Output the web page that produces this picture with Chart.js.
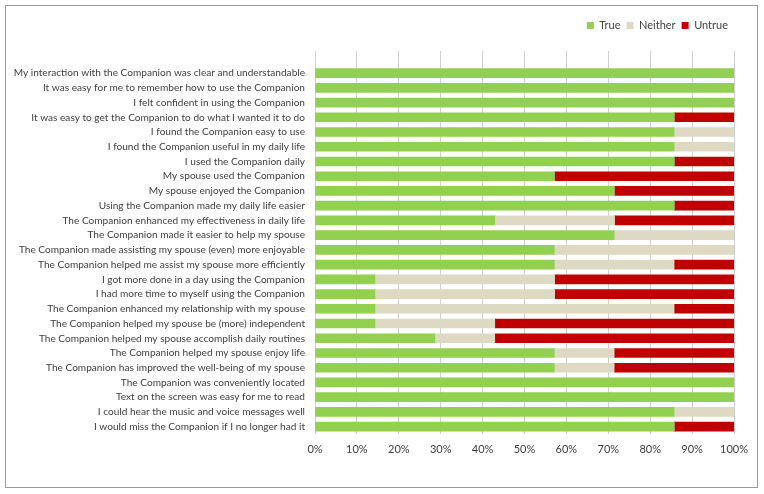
<!DOCTYPE html>
<html lang="en">
<head>
    <meta charset="UTF-8">
    <title>Companion survey</title>
    <script src="https://cdn.jsdelivr.net/npm/chart.js"></script>
    <style>
        html, body { margin: 0; padding: 0; background: #ffffff; }
        #wrap { position: relative; width: 764px; height: 494px; }
    </style>
</head>
<body>
    <div id="wrap"><canvas id="surveyChart" width="764" height="494"></canvas></div>

    <script>
        // statements, top to bottom (first slot is empty in the original sheet)
        const statements = [
            "",
            "My interaction with the Companion was clear and understandable",
            "It was easy for me to remember how to use the Companion",
            "I felt confident in using the Companion",
            "It was easy to get the Companion to do what I wanted it to do",
            "I found the Companion easy to use",
            "I found the Companion useful in my daily life",
            "I used the Companion daily",
            "My spouse used the Companion",
            "My spouse enjoyed the Companion",
            "Using the Companion made my daily life easier",
            "The Companion enhanced my effectiveness in daily life",
            "The Companion made it easier to help my spouse",
            "The Companion made assisting my spouse (even) more enjoyable",
            "The Companion helped me assist my spouse more efficiently",
            "I got more done in a day using the Companion",
            "I had more time to myself using the Companion",
            "The Companion enhanced my relationship with my spouse",
            "The Companion helped my spouse be (more) independent",
            "The Companion helped my spouse accomplish daily routines",
            "The Companion helped my spouse enjoy life",
            "The Companion has improved the well-being of my spouse",
            "The Companion was conveniently located",
            "Text on the screen was easy for me to read",
            "I could hear the music and voice messages well",
            "I would miss the Companion if I no longer had it"
        ];

        // share of answers, percent
        const trueVals = [null, 100, 100, 100, 85.7, 85.7, 85.7, 85.7, 57.1, 71.4, 85.7, 42.9, 71.4, 57.1, 57.1,
                          14.3, 14.3, 14.3, 14.3, 28.6, 57.1, 57.1, 100, 100, 85.7, 85.7];
        const neitherVals = [null, 0, 0, 0, 0, 14.3, 14.3, 0, 0, 0, 0, 28.6, 28.6, 42.9, 28.6,
                             42.9, 42.9, 71.4, 28.6, 14.3, 14.3, 14.3, 0, 0, 14.3, 0];
        const untrueVals = [null, 0, 0, 0, 14.3, 0, 0, 14.3, 42.9, 28.6, 14.3, 28.5, 0, 0, 14.3,
                            42.8, 42.8, 14.3, 57.1, 57.1, 28.6, 28.6, 0, 0, 0, 14.3];

        const xTicks = [0, 10, 20, 30, 40, 50, 60, 70, 80, 90, 100];

        const textColor = '#404040';
        const fontFamily = "Lato, 'Open Sans', sans-serif";

        // grey frame around the whole chart, like the spreadsheet chart border
        const framePlugin = {
            id: 'frame',
            beforeDraw(chart) {
                const c = chart.ctx;
                c.save();
                c.fillStyle = '#ffffff';
                c.fillRect(0, 0, chart.width, chart.height);
                c.strokeStyle = '#9a9a9a';
                c.lineWidth = 1;
                c.strokeRect(5.5, 5.5, 752, 482);
                c.restore();
            }
        };

        // fix legend block height so the plot starts where the original does
        const legendHeight = {
            id: 'legendHeight',
            beforeInit(chart) {
                const fit = chart.legend.fit;
                chart.legend.fit = function () {
                    fit.bind(chart.legend)();
                    this.height = 37;
                };
            }
        };

        const ctx = document.getElementById('surveyChart').getContext('2d');
        new Chart(ctx, {
            type: 'bar',
            data: {
                labels: statements,
                datasets: [
                    { label: 'True', data: trueVals, backgroundColor: '#92d050' },
                    { label: 'Neither', data: neitherVals, backgroundColor: '#ddd9c3' },
                    { label: 'Untrue', data: untrueVals, backgroundColor: '#c00000' }
                ]
            },
            options: {
                indexAxis: 'y',
                responsive: false,
                animation: false,
                barThickness: 9,
                layout: { padding: { top: 14, right: 30, bottom: 0, left: 0 } },
                plugins: {
                    tooltip: { enabled: false },
                    legend: {
                        position: 'top',
                        align: 'end',
                        labels: {
                            boxWidth: 7,
                            boxHeight: 7,
                            padding: 6,
                            color: textColor,
                            font: { family: fontFamily, size: 11 }
                        }
                    }
                },
                scales: {
                    x: {
                        stacked: true,
                        min: 0,
                        max: 100,
                        afterBuildTicks(scale) {
                            scale.ticks = xTicks.map(v => ({ value: v }));
                        },
                        afterFit(scale) { scale.height = 60; },
                        grid: { color: '#d0d0d0', drawTicks: false },
                        border: { display: false },
                        ticks: {
                            padding: 9,
                            color: textColor,
                            font: { family: fontFamily, size: 11 },
                            callback: v => v + '%'
                        }
                    },
                    y: {
                        stacked: true,
                        afterFit(scale) { scale.width = 315; },
                        grid: { display: false, drawTicks: false },
                        border: { display: false },
                        ticks: {
                            padding: 10,
                            autoSkip: false,
                            color: textColor,
                            font: { family: fontFamily, size: 10.1 }
                        }
                    }
                }
            },
            plugins: [framePlugin, legendHeight]
        });
    </script>
</body>
</html>
